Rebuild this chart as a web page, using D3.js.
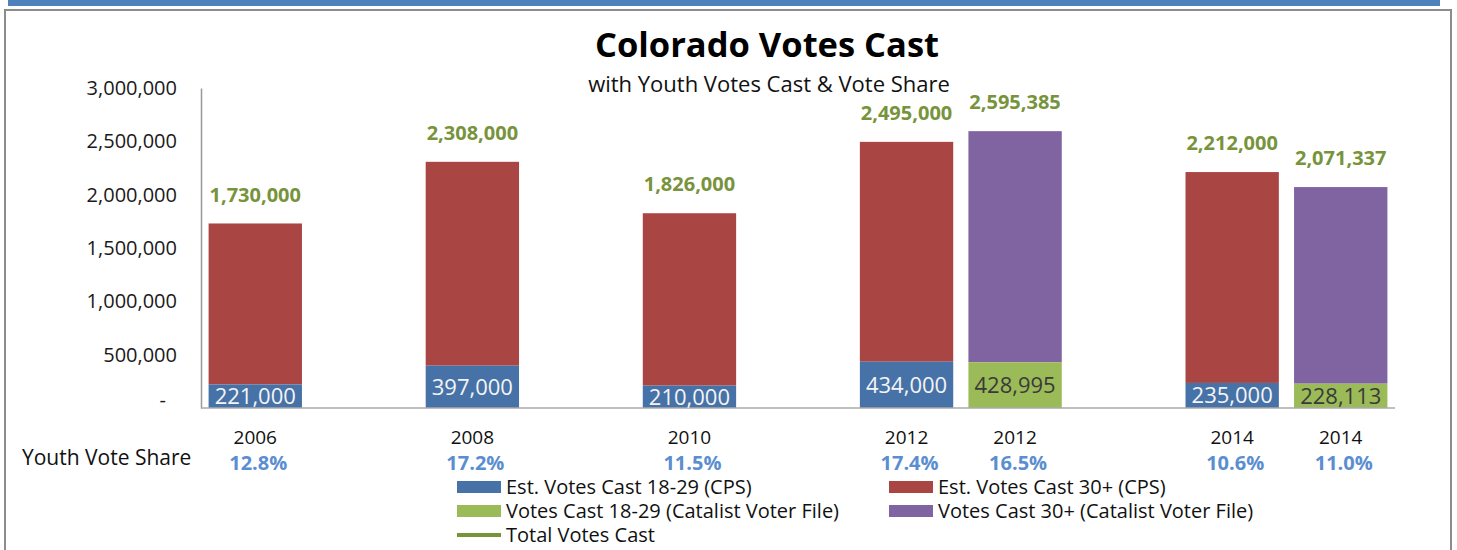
<!DOCTYPE html>
<html>
<head>
<meta charset="utf-8">
<script src="https://cdn.jsdelivr.net/npm/d3@7"></script>
<style>
  body { margin: 0; background: #fff; }
  text { font-family: "Open Sans", sans-serif; }
</style>
</head>
<body>
<div id="graphContainer"></div>
<script>
// values
var slots = [0, 2, 4, 6, 7, 9, 10];          // position among 11 Excel category slots
var years = ["2006", "2008", "2010", "2012", "2012", "2014", "2014"];
var source = ["CPS", "CPS", "CPS", "CPS", "Catalist", "CPS", "Catalist"];
var youthVotes = [221000, 397000, 210000, 434000, 428995, 235000, 228113];
var totalVotes = [1730000, 2308000, 1826000, 2495000, 2595385, 2212000, 2071337];
var youthShare = ["12.8%", "17.2%", "11.5%", "17.4%", "16.5%", "10.6%", "11.0%"];
var yTicks = [0, 500000, 1000000, 1500000, 2000000, 2500000, 3000000];

var legendLabels = ["Est. Votes Cast 18-29 (CPS)", "Est. Votes Cast 30+ (CPS)",
                    "Votes Cast 18-29 (Catalist Voter File)", "Votes Cast 30+ (Catalist Voter File)",
                    "Total Votes Cast"];
var legendKeys = ["youthCPS", "oldCPS", "youthCat", "oldCat", "total"];

var colors = {
  youthCPS: "#4672a8", oldCPS: "#a94644",
  youthCat: "#9bbb59", oldCat: "#8064a2", total: "#77933c"
};

var W = 1457, H = 550;
var plotLeft = 201, plotRight = 1395, plotTop = 88, plotBottom = 408;

var svg = d3.select("#graphContainer")
  .append("svg")
  .attr("width", W)
  .attr("height", H);

// top band and frame
svg.append("rect").attr("x", 8).attr("y", 0).attr("width", 1432).attr("height", 6).attr("fill", "#4f81bd");
svg.append("rect").attr("x", 5).attr("y", 10).attr("width", 1446).attr("height", 560)
  .attr("fill", "none").attr("stroke", "#8c8c8c").attr("stroke-width", 2);

var xScale = d3.scaleBand()
  .domain(d3.range(11))
  .range([plotLeft, plotRight])
  .paddingInner(0.14)
  .paddingOuter(0.07);

var yScale = d3.scaleLinear()
  .domain([0, 3000000])
  .range([plotBottom, plotTop]);

// y axis
var y = d3.axisLeft(yScale)
  .tickValues(yTicks)
  .tickSize(0)
  .tickPadding(24)
  .tickFormat(function(d) { return d === 0 ? "-" : d3.format(",")(d); });

svg.append("g")
  .attr("id", "y-axis")
  .attr("transform", `translate(${plotLeft}, 0)`)
  .call(y);

d3.select("#y-axis").select(".domain").attr("stroke", "#999").attr("stroke-width", 1.5);
d3.select("#y-axis").selectAll("text")
  .attr("font-family", '"Open Sans", sans-serif')
  .attr("font-size", 20)
  .attr("fill", "#1a1a1a");
d3.select("#y-axis").selectAll(".tick").filter(function(d) { return d === 0; })
  .select("text").attr("dx", -11).attr("dy", "-0.1em");

// stacked bars
var rows = slots.map(function(s, i) {
  return { slot: s, year: years[i], src: source[i], youth: youthVotes[i], total: totalVotes[i], share: youthShare[i] };
});

svg.selectAll("rect.old")
  .data(rows)
  .join("rect")
  .attr("class", "old")
  .attr("x", function(d) { return xScale(d.slot); })
  .attr("width", xScale.bandwidth())
  .attr("y", function(d) { return yScale(d.total); })
  .attr("height", function(d) { return yScale(d.youth) - yScale(d.total); })
  .attr("fill", function(d) { return d.src === "CPS" ? colors.oldCPS : colors.oldCat; });

svg.selectAll("rect.young")
  .data(rows)
  .join("rect")
  .attr("class", "young")
  .attr("x", function(d) { return xScale(d.slot); })
  .attr("width", xScale.bandwidth())
  .attr("y", function(d) { return yScale(d.youth); })
  .attr("height", function(d) { return yScale(0) - yScale(d.youth); })
  .attr("fill", function(d) { return d.src === "CPS" ? colors.youthCPS : colors.youthCat; });

// baseline
svg.append("line")
  .attr("x1", plotLeft).attr("x2", plotRight)
  .attr("y1", yScale(0)).attr("y2", yScale(0))
  .attr("stroke", "#aaa").attr("stroke-width", 1.5);

// youth labels inside bars
svg.selectAll("text.youth")
  .data(rows)
  .join("text")
  .attr("class", "youth")
  .attr("x", function(d) { return xScale(d.slot) + xScale.bandwidth() / 2; })
  .attr("y", function(d) { return (yScale(d.youth) + yScale(0)) / 2; })
  .attr("dy", "0.36em")
  .attr("text-anchor", "middle")
  .attr("font-size", 22)
  .attr("fill", function(d) { return d.src === "CPS" ? "#f4f4f4" : "#3a3a3a"; })
  .text(function(d) { return d3.format(",")(d.youth); });

// total labels above bars
svg.selectAll("text.total")
  .data(rows)
  .join("text")
  .attr("class", "total")
  .attr("x", function(d) { return xScale(d.slot) + xScale.bandwidth() / 2; })
  .attr("y", function(d) { return yScale(d.total) - 29; })
  .attr("dy", "0.36em")
  .attr("text-anchor", "middle")
  .attr("font-size", 20)
  .attr("font-weight", "bold")
  .attr("fill", colors.total)
  .text(function(d) { return d3.format(",")(d.total); });

// year labels and youth share
svg.selectAll("text.year")
  .data(rows)
  .join("text")
  .attr("class", "year")
  .attr("x", function(d) { return xScale(d.slot) + xScale.bandwidth() / 2; })
  .attr("y", 437)
  .attr("dy", "0.36em")
  .attr("text-anchor", "middle")
  .attr("font-size", 19)
  .attr("fill", "#111")
  .text(function(d) { return d.year; });

svg.selectAll("text.share")
  .data(rows)
  .join("text")
  .attr("class", "share")
  .attr("x", function(d) { return xScale(d.slot) + xScale.bandwidth() / 2 + 3; })
  .attr("y", 463)
  .attr("dy", "0.36em")
  .attr("text-anchor", "middle")
  .attr("font-size", 20)
  .attr("font-weight", "bold")
  .attr("fill", "#5a8ed0")
  .text(function(d) { return d.share; });

svg.append("text")
  .attr("x", 22)
  .attr("y", 457)
  .attr("dy", "0.36em")
  .attr("font-size", 21)
  .attr("fill", "#111")
  .text("Youth Vote Share");

// titles
svg.append("text")
  .attr("x", 767).attr("y", 57)
  .attr("text-anchor", "middle")
  .attr("font-size", 34.5)
  .attr("font-weight", "bold")
  .attr("fill", "#000")
  .text("Colorado Votes Cast");

svg.append("text")
  .attr("x", 769).attr("y", 84)
  .attr("dy", "0.36em")
  .attr("text-anchor", "middle")
  .attr("font-size", 22)
  .attr("fill", "#111")
  .text("with Youth Votes Cast & Vote Share");

// legend
var legendX = [457, 889], legendY = [487, 511, 535];
legendKeys.forEach(function(k, i) {
  var lx = legendX[i % 2], ly = legendY[Math.floor(i / 2)];
  if (k === "total") {
    svg.append("line")
      .attr("x1", lx).attr("x2", lx + 44)
      .attr("y1", ly).attr("y2", ly)
      .attr("stroke", colors[k]).attr("stroke-width", 4);
  } else {
    svg.append("rect")
      .attr("x", lx).attr("y", ly - 6)
      .attr("width", 44).attr("height", 12)
      .attr("fill", colors[k]);
  }
  svg.append("text")
    .attr("x", lx + 49).attr("y", ly)
    .attr("dy", "0.36em")
    .attr("font-size", 20)
    .attr("fill", "#111")
    .text(legendLabels[i]);
});
</script>
</body>
</html>
